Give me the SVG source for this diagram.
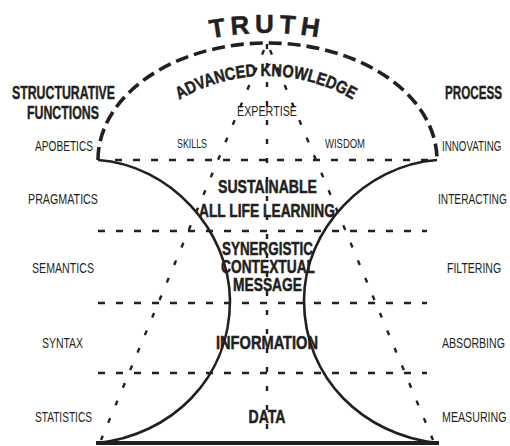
<svg xmlns="http://www.w3.org/2000/svg" width="510" height="446" viewBox="0 0 510 446">
<style>
  .ink{stroke:#231f20;fill:none}
  .dome{stroke-width:3.6;stroke-dasharray:13 6}
  .solid{stroke-width:2.6}
  .base{stroke-width:4}
  .hdash{stroke-width:2.4;stroke-dasharray:7 11}
  .dot{stroke-width:2.4;stroke-dasharray:5 14}
  text{font-family:"Liberation Sans",Arial,sans-serif;fill:#231f20}
  .side{font-size:15.5px}
  .head{font-size:17.5px;font-weight:bold;stroke:#231f20;stroke-width:0.4}
  .mid{font-size:18.5px;font-weight:bold;stroke:#231f20;stroke-width:0.5}
  .small{font-size:12px}
  .arc{font-weight:bold;stroke:#231f20;stroke-width:0.5}
</style>
<defs>
  <path id="truthArc" d="M164.4,51.1 A300,300 0 0 1 369.6,51.1"/>
  <path id="akArc" d="M156.7,115.8 A170,170 0 0 1 375.3,115.8"/>
</defs>
<rect width="510" height="446" fill="#ffffff"/>

<g id="connectors">
  <path class="ink dome" d="M98,160 A169.5,117 0 0 1 437,160"/>
  <path class="ink solid" d="M98,160 C170,165 229,230 230,300 C230,380 170,435 98,443"/>
  <path class="ink solid" d="M437,160 C365,165 304,230 304,300 C304,380 365,435 437,443"/>
  <line class="ink base" x1="96" y1="443" x2="439" y2="443"/>
  <line class="ink hdash" x1="115" y1="160" x2="432" y2="160"/>
  <line class="ink hdash" x1="98" y1="231" x2="427" y2="231"/>
  <line class="ink hdash" x1="98" y1="303" x2="427" y2="303"/>
  <line class="ink hdash" x1="98" y1="373" x2="427" y2="373"/>
  <line class="ink dot" x1="267" y1="44" x2="267" y2="443"/>
  <line class="ink dot" x1="264" y1="50" x2="101" y2="440"/>
  <line class="ink dot" x1="270" y1="50" x2="433" y2="440"/>
</g>

<g id="truth">
  <text class="arc" font-size="26" letter-spacing="5"><textPath href="#truthArc" startOffset="50%" text-anchor="middle" dx="2.5">TRUTH</textPath></text>
</g>
<g id="advanced-knowledge">
  <text class="arc" font-size="17.5"><textPath href="#akArc" startOffset="50%" text-anchor="middle" textLength="182" lengthAdjust="spacingAndGlyphs">ADVANCED KNOWLEDGE</textPath></text>
</g>
<g id="expertise"><text class="side" x="267" y="116" text-anchor="middle" textLength="60" lengthAdjust="spacingAndGlyphs">EXPERTISE</text></g>
<g id="skills"><text class="small" x="192" y="147.5" text-anchor="middle" textLength="30" lengthAdjust="spacingAndGlyphs">SKILLS</text></g>
<g id="wisdom"><text class="small" x="345" y="147.5" text-anchor="middle" textLength="40" lengthAdjust="spacingAndGlyphs">WISDOM</text></g>

<g id="structurative-functions">
  <text class="head" x="12" y="99" textLength="103" lengthAdjust="spacingAndGlyphs">STRUCTURATIVE</text>
  <text class="head" x="27" y="118.5" textLength="72" lengthAdjust="spacingAndGlyphs">FUNCTIONS</text>
</g>
<g id="process"><text class="head" transform="translate(445,99) scale(0.666,1)">PROCESS</text></g>

<g id="apobetics"><text class="side" x="35" y="151" textLength="58" lengthAdjust="spacingAndGlyphs">APOBETICS</text></g>
<g id="pragmatics"><text class="side" x="28" y="203.5" textLength="70" lengthAdjust="spacingAndGlyphs">PRAGMATICS</text></g>
<g id="semantics"><text class="side" x="32" y="272.5" textLength="62" lengthAdjust="spacingAndGlyphs">SEMANTICS</text></g>
<g id="syntax"><text class="side" x="42" y="347.5" textLength="41" lengthAdjust="spacingAndGlyphs">SYNTAX</text></g>
<g id="statistics"><text class="side" x="35" y="421.5" textLength="57" lengthAdjust="spacingAndGlyphs">STATISTICS</text></g>

<g id="innovating"><text class="side" transform="translate(442,151) scale(0.632,1)">INNOVATING</text></g>
<g id="interacting"><text class="side" transform="translate(438,204) scale(0.656,1)">INTERACTING</text></g>
<g id="filtering"><text class="side" transform="translate(447,273) scale(0.679,1)">FILTERING</text></g>
<g id="absorbing"><text class="side" transform="translate(442,347.5) scale(0.683,1)">ABSORBING</text></g>
<g id="measuring"><text class="side" transform="translate(442,421.5) scale(0.688,1)">MEASURING</text></g>

<g id="sustainable-learning">
  <text class="mid" x="267.5" y="193" text-anchor="middle" textLength="99" lengthAdjust="spacingAndGlyphs">SUSTAINABLE</text>
  <text class="mid" x="267" y="216.5" text-anchor="middle" textLength="136" lengthAdjust="spacingAndGlyphs">ALL LIFE LEARNING</text>
</g>
<g id="synergistic-message">
  <text class="mid" x="267.5" y="255" text-anchor="middle" textLength="91" lengthAdjust="spacingAndGlyphs">SYNERGISTIC</text>
  <text class="mid" x="268" y="273" text-anchor="middle" textLength="94" lengthAdjust="spacingAndGlyphs">CONTEXTUAL</text>
  <text class="mid" x="267.5" y="291" text-anchor="middle" textLength="69" lengthAdjust="spacingAndGlyphs">MESSAGE</text>
</g>
<g id="information"><text class="mid" x="267" y="349" text-anchor="middle" textLength="102" lengthAdjust="spacingAndGlyphs">INFORMATION</text></g>
<g id="data"><text class="mid" x="267" y="422.5" text-anchor="middle" textLength="37" lengthAdjust="spacingAndGlyphs">DATA</text></g>
</svg>
